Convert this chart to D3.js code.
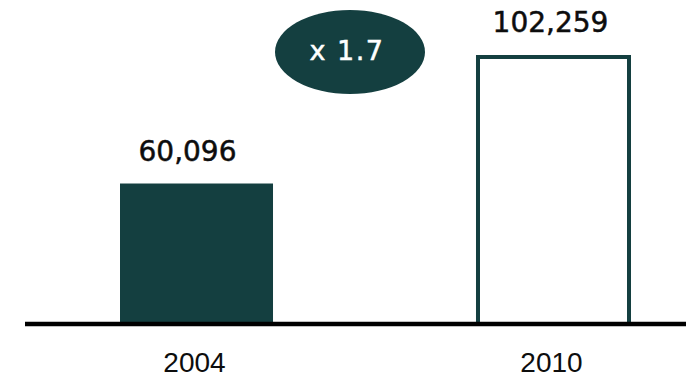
<!DOCTYPE html>
<html>
<head>
<meta charset="utf-8">
<script src="https://cdn.jsdelivr.net/npm/d3@7"></script>
<style>
  body { margin: 0; background: #fff; }
</style>
</head>
<body>
<div id="chart"></div>
<script>
const width = 686;
const height = 379;

// data
const years = ["2004", "2010"];
const values = [60096, 102259];
const ratioLabel = "x 1.7";

const dark = "#143f40";
const baseY = 324;

const svg = d3.select("#chart").append("svg")
    .attr("width", width)
    .attr("height", height);

const x = d3.scaleBand()
    .domain(years)
    .range([120, 630])
    .paddingInner(0.5714)
    .paddingOuter(0);

// the picture's bars don't start from zero
const y = d3.scaleLinear()
    .domain([14000, 102259])
    .range([baseY, 55]);

// bars: first solid, second outlined (stroke kept inside the band)
svg.selectAll("rect.bar")
    .data(values)
    .enter()
    .append("rect")
    .attr("class", "bar")
    .attr("x", (d, i) => i == 0 ? x(years[i]) : x(years[i]) + 1)
    .attr("y", (d, i) => i == 0 ? y(d) : y(d) + 2)
    .attr("width", (d, i) => i == 0 ? x.bandwidth() : x.bandwidth() - 2)
    .attr("height", (d, i) => i == 0 ? baseY - y(d) : baseY - y(d) - 2)
    .attr("fill", (d, i) => i == 0 ? dark : "#fff")
    .attr("stroke", (d, i) => i == 0 ? "none" : dark)
    .attr("stroke-width", 4);

// baseline
svg.append("line")
    .attr("x1", 25).attr("x2", width)
    .attr("y1", baseY).attr("y2", baseY)
    .attr("stroke", "#000")
    .attr("stroke-width", 4.5);

// value labels
svg.selectAll("text.val")
    .data(values)
    .enter()
    .append("text")
    .attr("class", "val")
    .attr("x", (d, i) => x(years[i]) + x.bandwidth() / 2 + (i == 0 ? -9 : -3))
    .attr("y", d => y(d) - 23)
    .attr("text-anchor", "middle")
    .style("font-family", "'DejaVu Sans', sans-serif")
    .style("font-size", "28px")
    .style("fill", "#0d0d0d")
    .style("stroke", "#0d0d0d")
    .style("stroke-width", 0.5)
    .text(d => d3.format(",")(d));

// year labels
svg.selectAll("text.year")
    .data(years)
    .enter()
    .append("text")
    .attr("class", "year")
    .attr("x", d => x(d) + x.bandwidth() / 2 - 2)
    .attr("y", 372)
    .attr("text-anchor", "middle")
    .style("font-family", "'Liberation Sans', sans-serif")
    .style("font-size", "28px")
    .style("fill", "#0d0d0d")
    .text(d => d);

// growth bubble
svg.append("ellipse")
    .attr("cx", 350).attr("cy", 52)
    .attr("rx", 75).attr("ry", 42)
    .attr("fill", dark);

svg.append("text")
    .attr("x", 347).attr("y", 60)
    .attr("text-anchor", "middle")
    .style("font-family", "'DejaVu Sans', sans-serif")
    .style("font-size", "27px")
    .style("letter-spacing", "1.5px")
    .style("fill", "#fff")
    .style("stroke", "#fff")
    .style("stroke-width", 0.5)
    .text(ratioLabel);
</script>
</body>
</html>
